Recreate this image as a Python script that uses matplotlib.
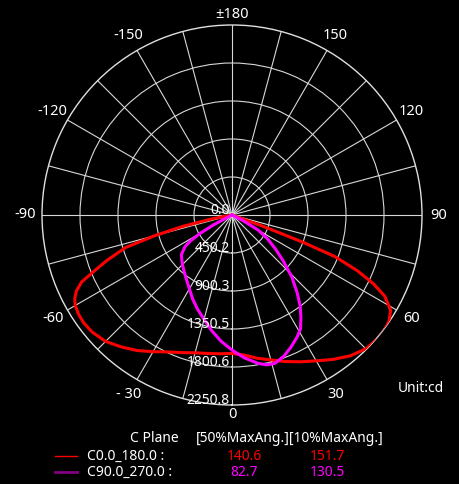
import numpy as np
import matplotlib
matplotlib.use("Agg")
import matplotlib.pyplot as plt

plt.rcParams['font.family'] = ['Noto Sans', 'DejaVu Sans']

# ---- data (cd vs. gamma angle, 0 = straight down, + to the right) ----
c0_angles = [-90, -82, -80, -79, -77, -75, -73, -70, -68, -66, -64, -62, -60, -57, -54,
             -50, -45, -40, -35, -30, -25, -20, -15, -10, -5, 0, 5, 10, 15, 20, 25,
             30, 35, 40, 45, 50, 53, 56, 59, 62, 64, 66, 68, 69, 70, 71, 90]
c0_cd = [0, 0, 100, 250, 600, 950, 1320, 1580, 1750, 1950, 2050, 2110, 2145, 2165, 2172,
         2160, 2118, 2040, 1960, 1870, 1790, 1735, 1690, 1665, 1650, 1640, 1665, 1723,
         1777, 1847, 1919, 1995, 2088, 2178, 2242, 2268, 2265, 2245, 2192, 2050, 1870,
         1630, 1316, 900, 400, 0, 0]

c90_angles = [-90, -65, -62, -60, -58, -56, -52, -48, -44, -40, -35, -30, -25, -20, -15,
              -10, -5, 0, 5, 10, 13, 16, 20, 24, 28, 31, 34, 37, 40, 44, 48, 52, 56,
              60, 63, 65, 90]
c90_cd = [0, 0, 250, 440, 580, 672, 760, 800, 840, 880, 938, 1010, 1100, 1190, 1280,
          1390, 1500, 1600, 1700, 1785, 1822, 1830, 1785, 1715, 1640, 1575, 1460, 1340,
          1200, 1020, 820, 655, 510, 360, 150, 0, 0]

ring_values = [0.0, 450.2, 900.3, 1350.5, 1800.6, 2250.8]
angle_ticks = [180, -150, 150, -120, 120, -90, 90, -60, 60, -30, 30, 0]
angle_texts = ['±180', '-150', '150', '-120', '120', '-90', '90', '-60', '60', '- 30', '30', '0']

legend_header = ['C Plane', '[50%MaxAng.][10%MaxAng.]']
legend_names = ['C0.0_180.0 :', 'C90.0_270.0 :']
legend_50 = ['140.6', '82.7']
legend_10 = ['151.7', '130.5']

# ---- figure ----
W, H = 459, 484
fig = plt.figure(figsize=(W / 100, H / 100), dpi=100, facecolor='black')
cx, cy, R = 232, 215, 190
ax = fig.add_axes([(cx - R) / W, (H - cy - R) / H, 2 * R / W, 2 * R / H],
                  projection='polar', facecolor='black')
ax.set_theta_zero_location('S')
ax.set_theta_direction(1)
rmax = ring_values[-1]
ax.set_ylim(0, rmax)
ax.set_thetagrids(np.arange(0, 360, 15), labels=[])
ax.set_rgrids(ring_values[1:-1], labels=[])
ax.grid(True, color='#d8d8d8', linewidth=0.8)
ax.spines['polar'].set_color('#e0e0e0')
ax.spines['polar'].set_linewidth(1.0)
ax.tick_params(length=0)

ax.plot(np.deg2rad(c0_angles), c0_cd, color='#ff0000', lw=2.2, zorder=4)
ax.plot(np.deg2rad(c90_angles), c90_cd, color='#ff00ff', lw=2.2, zorder=5)

# ring labels
for v in ring_values:
    ax.annotate(f'{v:.1f}', xy=(0, v), xytext=(-1.5, 1.0), textcoords='offset points',
                ha='right', va='baseline', color='white', fontsize=10, zorder=6)

# angle labels
for a, t in zip(angle_ticks, angle_texts):
    rr = rmax * (201 / 190 if a == 180 else (200 / 190 if a == 0 else 207 / 190))
    ax.text(np.deg2rad(a), rr, t, ha='center', va='center', color='white',
            fontsize=10.5, clip_on=False)

fig.text(421 / W, 1 - 388 / H, 'Unit:cd', ha='center', va='center', color='white', fontsize=10)

# legend block
fig.text(154 / W, 1 - 439 / H, legend_header[0], ha='center', va='center', color='white', fontsize=10)
fig.text(290 / W, 1 - 439 / H, legend_header[1], ha='center', va='center', color='white', fontsize=10)
row_y = [456, 472]
line_cols = ['#ff0000', '#800080']
line_w = [1.0, 2.0]
txt_cols = ['#ff0000', '#ff00ff']
for i in range(2):
    y = 1 - row_y[i] / H
    fig.add_artist(plt.Line2D([55 / W, 77 / W], [y, y], color=line_cols[i], lw=line_w[i]))
    fig.text(87 / W, y, legend_names[i], ha='left', va='center', color='white', fontsize=10)
    fig.text(244 / W, y, legend_50[i], ha='center', va='center', color=txt_cols[i], fontsize=10)
    fig.text(327 / W, y, legend_10[i], ha='center', va='center', color=txt_cols[i], fontsize=10)

fig.savefig('out.png', dpi=100, facecolor='black')
